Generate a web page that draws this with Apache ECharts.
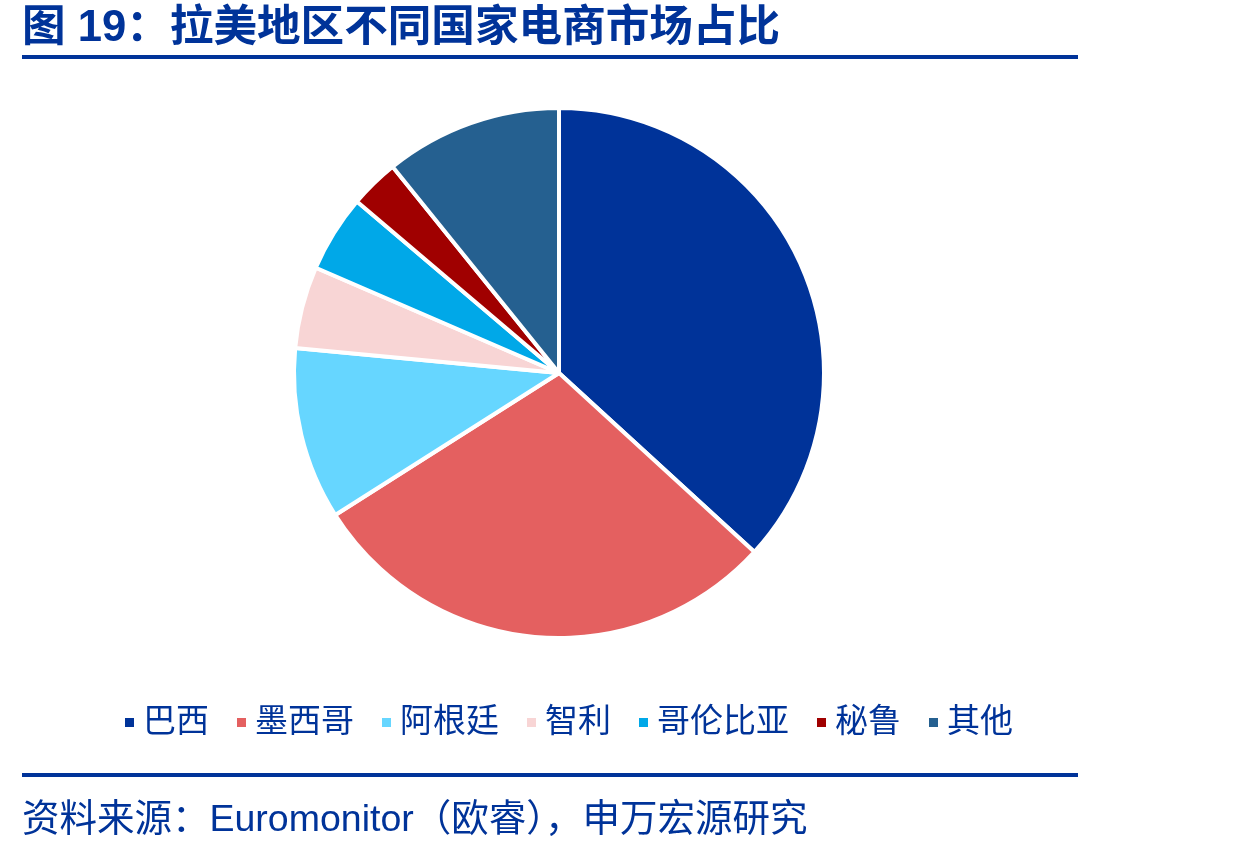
<!DOCTYPE html>
<html><head><meta charset="utf-8">
<script src="https://cdn.jsdelivr.net/npm/echarts@6/dist/echarts.min.js"></script>
<style>html,body{margin:0;padding:0;background:#fff}#c{width:1247px;height:852px}</style>
</head><body><div id="c"></div>
<script>
const categories = ['巴西','墨西哥','阿根廷','智利','哥伦比亚','秘鲁','其他'];
const shares = [36.8, 29.2, 10.5, 5.0, 4.7, 3.0, 10.8];
const colors = ['#003399','#E46060','#66D6FF','#F8D5D5','#00A8E8','#A00000','#256090'];
const titleText = '图 19：拉美地区不同国家电商市场占比';
const sourceText = '资料来源：Euromonitor（欧睿），申万宏源研究';
const FONT = '"Liberation Sans", "Noto Sans CJK SC", sans-serif';

const chart = echarts.init(document.getElementById('c'), null, {renderer:'canvas'});
chart.setOption({
  animation:false,
  color: colors,
  legend: {
    left: 118, top: 701,
    icon: 'rect', itemWidth: 11, itemHeight: 11, itemGap: 26,
    textStyle: {fontFamily: FONT, fontSize: 33, color: '#003399', padding:[0,0,0,3]},
    data: categories
  },
  graphic: [
    {type:'text', left: 22, top: 7, style:{text: titleText, font: 'bold 43.6px ' + FONT, fill:'#003399'}},
    {type:'rect', shape:{x:22, y:55, width:1056, height:4}, style:{fill:'#003399'}},
    {type:'rect', shape:{x:22, y:773, width:1056, height:4}, style:{fill:'#003399'}},
    {type:'text', left: 22, top: 802, style:{text: sourceText, font: '37.5px ' + FONT, fill:'#003399'}}
  ],
  series: [{
    type:'pie',
    center:[559, 373],
    radius:[0, 265],
    startAngle: 90,
    clockwise: true,
    label:{show:false},
    labelLine:{show:false},
    itemStyle:{borderColor:'#fff', borderWidth:4},
    emphasis:{disabled:true},
    data: categories.map((n,i)=>({name:n, value:shares[i]}))
  }]
});
</script></body></html>
